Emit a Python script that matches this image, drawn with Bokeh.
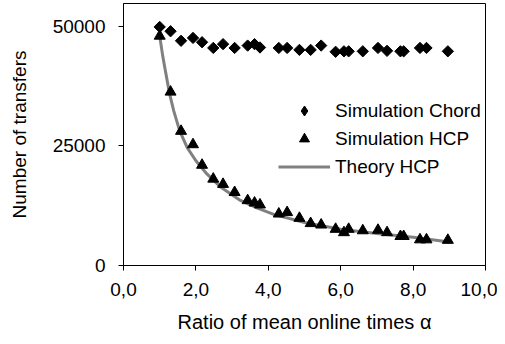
import numpy as np
from bokeh.plotting import figure
from bokeh.models import Range1d, FixedTicker, Legend, LegendItem, ColumnDataSource
from bokeh.embed import file_html
from bokeh.resources import INLINE

# ---- data ----
alpha = [1.0, 1.30, 1.59, 1.92, 2.17, 2.48, 2.75, 3.07, 3.43, 3.62, 3.77, 4.29, 4.52, 4.86,
         5.17, 5.46, 5.86, 6.09, 6.22, 6.61, 7.03, 7.28, 7.65, 7.74, 8.19, 8.37, 8.96]
sim_chord = [49900, 49000, 47000, 47600, 46700, 45500, 46300, 45500, 46000, 46300, 45600, 45500, 45500, 45100,
             45100, 46000, 44700, 44800, 44800, 44800, 45500, 44900, 44800, 44800, 45500, 45500, 44800]
sim_hcp = [48000, 36300, 28100, 25300, 21000, 18100, 17000, 15300, 13600, 13100, 12700, 10800, 11100, 9900,
           8800, 8500, 7600, 6900, 7600, 7300, 7400, 6900, 6100, 6100, 5400, 5400, 5300]
theory_x = [1.0, 1.08, 1.16, 1.27, 1.39, 1.55, 1.76, 2.0, 2.31, 2.7, 3.23, 3.7, 4.15, 5.0, 6.0, 7.0, 8.0, 9.0]
theory_y = [48000, 44000, 40600, 36000, 32300, 28200, 24650, 21900, 19100, 16300, 13600, 12000, 10700, 9000,
            7600, 6700, 5900, 4900]
x_ticks = [0, 2, 4, 6, 8, 10]
x_tick_labels = ["0,0", "2,0", "4,0", "6,0", "8,0", "10,0"]
y_ticks = [0, 25000, 50000]
y_tick_labels = ["0", "25000", "50000"]
legend_labels = ["Simulation Chord", "Simulation HCP", "Theory HCP"]

FONT = "Liberation Sans"
FS = "19px"

p = figure(width=497, height=336, output_backend="svg", toolbar_location=None,
           x_range=Range1d(0, 10), y_range=Range1d(0, 54800),
           min_border_left=123, min_border_right=12, min_border_top=3, min_border_bottom=71)
# an unused range for the legend key renderer only (its points fall outside the frame)
p.extra_y_ranges = {"key": Range1d(0, 1)}
p.xgrid.visible = False
p.ygrid.visible = False
p.outline_line_color = "black"
p.outline_line_width = 1
p.background_fill_color = "white"
p.border_fill_color = "white"

for ax in (p.xaxis[0], p.yaxis[0]):
    ax.axis_line_color = "black"
    ax.major_tick_line_color = "black"
    ax.minor_tick_line_color = None
    ax.major_tick_in = 0
    ax.major_tick_out = 5
    ax.major_label_text_font = FONT
    ax.major_label_text_font_size = FS
    ax.major_label_text_color = "black"
    ax.axis_label_text_font = FONT
    ax.axis_label_text_font_size = FS
    ax.axis_label_text_font_style = "normal"
    ax.axis_label_text_color = "black"

p.xaxis.ticker = FixedTicker(ticks=x_ticks)
p.xaxis.major_label_overrides = {t: l for t, l in zip(x_ticks, x_tick_labels)}
p.yaxis.ticker = FixedTicker(ticks=y_ticks)
p.yaxis.major_label_overrides = {t: l for t, l in zip(y_ticks, y_tick_labels)}
p.xaxis.axis_label = "Ratio of mean online times α"
p.yaxis.axis_label = "Number of transfers"
p.xaxis.axis_label_text_font_size = "20px"
p.xaxis.major_label_standoff = 12
p.xaxis.axis_label_standoff = 12
p.yaxis.major_label_standoff = 13
p.yaxis.axis_label_standoff = 20

chord_src = ColumnDataSource(dict(x=alpha, y=sim_chord))

r_theory = p.line(theory_x, theory_y, line_color="#808080", line_width=3)
r_chord = p.scatter("x", "y", source=chord_src, marker="square", angle=np.pi / 4, size=8,
                    fill_color="black", line_color="black")
r_hcp = p.scatter(alpha, sim_hcp, marker="triangle", size=11,
                  fill_color="black", line_color="black")
# legend key for the chord series (legend keys ignore marker angle)
r_chord_key = p.scatter("x", "y", source=chord_src, y_range_name="key",
                        marker="diamond", size=15, fill_color="black", line_color="black")

legend = Legend(items=[LegendItem(label=legend_labels[0], renderers=[r_chord_key]),
                       LegendItem(label=legend_labels[1], renderers=[r_hcp]),
                       LegendItem(label=legend_labels[2], renderers=[r_theory])],
                location=(155, 86))
legend.border_line_alpha = 0
legend.background_fill_alpha = 0
legend.label_text_font = FONT
legend.label_text_font_size = FS
legend.label_text_color = "black"
legend.glyph_width = 52
legend.glyph_height = 25
legend.label_height = 25
legend.label_standoff = 5
legend.spacing = 3
legend.padding = 0
legend.margin = 0
p.add_layout(legend, "center")

open("out.html", "w").write(file_html(p, INLINE))
